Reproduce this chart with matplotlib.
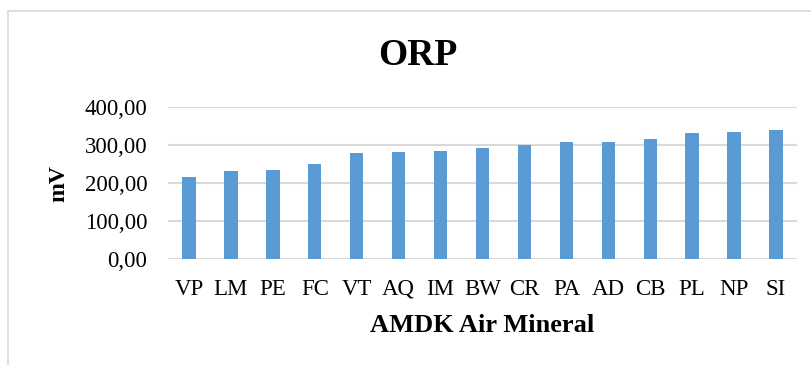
import matplotlib.pyplot as plt
from matplotlib.patches import Rectangle
from matplotlib.ticker import FuncFormatter

# ORP readings per bottled mineral water brand (mV)
brands = ["VP", "LM", "PE", "FC", "VT", "AQ", "IM", "BW",
          "CR", "PA", "AD", "CB", "PL", "NP", "SI"]
orp_mv = [217, 232, 235, 250, 280, 282, 285, 293,
          300, 308, 309, 316, 332, 334, 341]
y_ticks = [0, 100, 200, 300, 400]

plt.rcParams["font.family"] = ["Liberation Serif", "DejaVu Serif"]

W, H = 811, 365
fig = plt.figure(figsize=(W / 100, H / 100), dpi=100)

# chart area outline
fig.patches.append(Rectangle((8 / W, -0.1), 1.2, 1 - 11 / H + 0.1,
                             transform=fig.transFigure, fill=False,
                             edgecolor="#d9d9d9", linewidth=1.2))

ax = fig.add_axes([168 / W, 1 - 259.3 / H, (797 - 168) / W, (259.3 - 107.3) / H])
x = range(len(brands))
ax.bar(x, orp_mv, width=0.32, color="#5b9bd5", zorder=3)

ax.set_xlim(-0.5, len(brands) - 0.5)
ax.set_ylim(0, 400)
ax.set_yticks(y_ticks)
ax.yaxis.set_major_formatter(FuncFormatter(lambda v, _: f"{v:.2f}".replace(".", ",")))
ax.set_xticks(list(x))
ax.set_xticklabels(brands)
ax.tick_params(axis="both", length=0, labelsize=16.5)
ax.tick_params(axis="y", pad=15)
ax.tick_params(axis="x", pad=14)

ax.grid(axis="y", color="#d9d9d9", linewidth=1.5, zorder=0)
for s in ax.spines.values():
    s.set_visible(False)

ax.set_xlabel("AMDK Air Mineral", fontsize=19, fontweight="bold", labelpad=10)
ax.set_ylabel("mV", fontsize=17, fontweight="bold", labelpad=11)

fig.text(418 / W, 1 - 65 / H, "ORP", ha="center", va="baseline",
         fontsize=27, fontweight="bold")

fig.savefig("out.png", dpi=100)
